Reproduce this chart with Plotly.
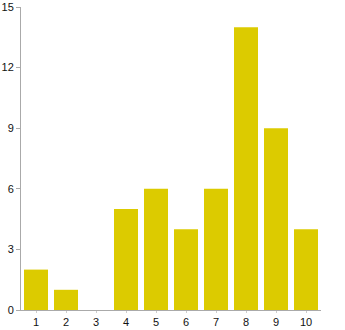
import plotly.graph_objects as go

categories = ["1", "2", "3", "4", "5", "6", "7", "8", "9", "10"]
values = [2, 1, 0, 5, 6, 4, 6, 14, 9, 4]
y_ticks = [0, 3, 6, 9, 12, 15]

fig = go.Figure(go.Bar(x=categories, y=values, marker=dict(color="#DCCB00", line=dict(width=0))))
fig.update_layout(
    width=345, height=330,
    margin=dict(l=21, r=24, t=7, b=20),
    paper_bgcolor="white", plot_bgcolor="white",
    bargap=0.2, showlegend=False,
    font=dict(family="Liberation Sans, Arial, sans-serif", size=11, color="#111"),
)
fig.update_xaxes(type="category", showline=True, linecolor="#aaa", linewidth=1, automargin=False,
                 ticks="outside", ticklen=2, tickcolor="#ccc", showgrid=False, ticklabeloverflow="allow")
fig.update_yaxes(range=[0, 15], tickvals=y_ticks, showline=True, linecolor="#aaa", linewidth=1, automargin=False,
                 ticks="outside", ticklen=4, tickcolor="#aaa", showgrid=False, zeroline=False,
                 ticklabeloverflow="allow")
fig.write_html("out.html")
